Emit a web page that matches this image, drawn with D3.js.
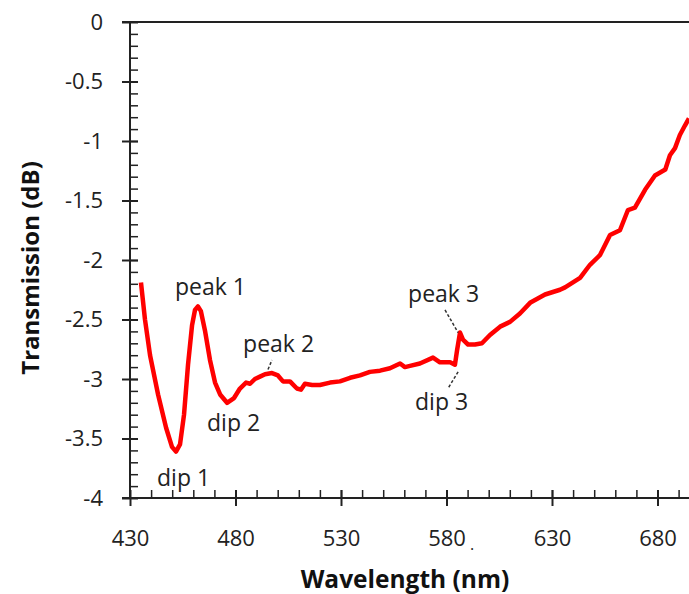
<!DOCTYPE html>
<html>
<head>
<meta charset="utf-8">
<script src="https://cdn.jsdelivr.net/npm/d3@7"></script>
<style>
  body { margin: 0; background: #fff; }
  svg { display: block; }
</style>
</head>
<body>
<script>
// donnees
var wavelength = [435.2, 437.1, 439.5, 443.3, 447.1, 449.9, 451.8, 453.7, 455.6, 457.5,
  459.4, 460.8, 462.2, 463.6, 465.5, 467.9, 470.3, 472.7, 476.0, 479.3,
  482.1, 485.0, 486.9, 489.2, 491.6, 494.0, 497.3, 500.1, 502.5, 505.8,
  509.1, 511.0, 512.9, 516.3, 520.0, 524.8, 529.5, 534.3, 539.0, 543.7,
  548.5, 553.2, 558.0, 560.3, 562.7, 567.4, 573.6, 576.9, 581.7, 584.0,
  585.0, 586.4, 587.8, 590.2, 593.5, 596.8, 600.6, 605.4, 610.1, 614.8,
  619.6, 626.7, 633.8, 636.2, 643.3, 648.0, 652.7, 657.5, 662.2, 666.0,
  669.3, 674.1, 678.8, 683.7, 685.9, 688.3, 690.6, 693.0, 694.9];
var transmission = [-2.19, -2.50, -2.80, -3.13, -3.41, -3.57, -3.61, -3.55, -3.30, -2.88,
  -2.55, -2.42, -2.39, -2.43, -2.59, -2.84, -3.03, -3.13, -3.20, -3.16,
  -3.08, -3.03, -3.04, -3.00, -2.98, -2.96, -2.95, -2.97, -3.02, -3.02,
  -3.08, -3.09, -3.04, -3.05, -3.05, -3.03, -3.02, -2.99, -2.97, -2.94,
  -2.93, -2.91, -2.87, -2.90, -2.89, -2.87, -2.82, -2.86, -2.86, -2.88,
  -2.76, -2.61, -2.67, -2.71, -2.71, -2.70, -2.63, -2.56, -2.52, -2.45,
  -2.36, -2.29, -2.25, -2.23, -2.15, -2.04, -1.96, -1.79, -1.75, -1.58,
  -1.56, -1.41, -1.29, -1.24, -1.12, -1.06, -0.95, -0.87, -0.81];

var xTicks = [430, 480, 530, 580, 630, 680];
var yTicks = [0, -0.5, -1, -1.5, -2, -2.5, -3, -3.5, -4];

var labelText = ["peak 1", "dip 1", "dip 2", "peak 2", "peak 3", "dip 3"];
var labelX = [451.3, 442.8, 466.5, 483.6, 561.8, 565.1];
var labelY = [-2.29, -3.90, -3.44, -2.77, -2.35, -3.26];

// traits de rappel [x1, y1, x2, y2]
var leaders = [
  [495.4, -2.92, 497.3, -2.84],
  [579.3, -2.42, 585.5, -2.61],
  [585.5, -2.94, 580.7, -3.08]
];

var larg = 689, haut = 594;
var fontT = "'Open Sans', sans-serif";

var x = d3.scaleLinear().domain([430, 700]).range([130, 699.7]);
var y = d3.scaleLinear().domain([-4, 0]).range([498, 22]);

var svg = d3.select("body").append("svg")
  .attr("width", larg)
  .attr("height", haut);

// ligne du haut
svg.append("line")
  .attr("x1", 122).attr("x2", larg)
  .attr("y1", y(0)).attr("y2", y(0))
  .attr("stroke", "#222").attr("stroke-width", 2);

// axe X (graduations mineures)
svg.append("g")
  .attr("transform", "translate(0," + y(-4) + ")")
  .call(d3.axisBottom(x).tickValues(d3.range(440, 701, 10)).tickSize(0).tickFormat(""))
  .call(function(g) {
    g.select(".domain").remove();
    g.selectAll(".tick line").attr("y1", -8).attr("y2", 0)
      .attr("stroke", "#222").attr("stroke-width", 1.5);
  });

// axe X (majeures)
var gx = svg.append("g")
  .attr("transform", "translate(0," + y(-4) + ")")
  .call(d3.axisBottom(x).tickValues(xTicks).tickSize(0).tickPadding(0).tickFormat(d3.format("d")));
gx.select(".domain").attr("d", "M122,0H" + larg).attr("stroke", "#222").attr("stroke-width", 2);
gx.selectAll(".tick line").attr("y1", -8).attr("y2", 8).attr("stroke", "#222").attr("stroke-width", 2);
gx.selectAll(".tick text")
  .attr("y", 48).attr("dy", null)
  .attr("font-family", fontT).attr("font-size", "22px").attr("fill", "#222");

// axe Y (mineures)
svg.append("g")
  .attr("transform", "translate(" + x(430) + ",0)")
  .call(d3.axisLeft(y).tickValues(d3.range(-39, 0).map(function(d) { return d / 10; })).tickSize(0).tickFormat(""))
  .call(function(g) {
    g.select(".domain").remove();
    g.selectAll(".tick line").attr("x1", 0).attr("x2", 8)
      .attr("stroke", "#222").attr("stroke-width", 1.5);
  });

// axe Y (majeures)
var gy = svg.append("g")
  .attr("transform", "translate(" + x(430) + ",0)")
  .call(d3.axisLeft(y).tickValues(yTicks).tickSize(0).tickPadding(0).tickFormat(function(d) { return d3.format("")(d).replace("\u2212", "-"); }));
gy.select(".domain").attr("d", "M0," + y(0) + "V" + y(-4)).attr("stroke", "#222").attr("stroke-width", 2);
gy.selectAll(".tick line").attr("x1", -8).attr("x2", 8).attr("stroke", "#222").attr("stroke-width", 2);
gy.selectAll(".tick text")
  .attr("x", -27)
  .attr("font-family", fontT).attr("font-size", "22px").attr("fill", "#222");

// courbe
var pts = wavelength.map(function(w, i) { return [w, transmission[i]]; });
var line = d3.line()
  .x(function(d) { return x(d[0]); })
  .y(function(d) { return y(d[1]); });

svg.append("path")
  .datum(pts)
  .attr("d", line)
  .attr("fill", "none")
  .attr("stroke", "#ff0000")
  .attr("stroke-width", 4.5)
  .attr("stroke-linejoin", "round");

// traits de rappel
svg.selectAll("line.leader")
  .data(leaders)
  .enter()
  .append("line")
  .attr("class", "leader")
  .attr("x1", function(d) { return x(d[0]); })
  .attr("y1", function(d) { return y(d[1]); })
  .attr("x2", function(d) { return x(d[2]); })
  .attr("y2", function(d) { return y(d[3]); })
  .attr("stroke", "#333")
  .attr("stroke-width", 1.5)
  .attr("stroke-dasharray", "3,2");

// libelles
svg.selectAll("text.lbl")
  .data(labelText)
  .enter()
  .append("text")
  .attr("class", "lbl")
  .text(function(d) { return d; })
  .attr("x", function(d, i) { return x(labelX[i]); })
  .attr("y", function(d, i) { return y(labelY[i]); })
  .attr("font-family", fontT)
  .attr("font-size", "23px")
  .attr("fill", "#222");

// titres des axes
svg.append("text")
  .text("Wavelength (nm)")
  .attr("x", 405).attr("y", 588)
  .attr("text-anchor", "middle")
  .attr("font-family", fontT).attr("font-weight", "bold").attr("font-size", "24.5px")
  .attr("fill", "#111");

svg.append("text")
  .text("Transmission (dB)")
  .attr("transform", "translate(39,268) rotate(-90)")
  .attr("text-anchor", "middle")
  .attr("font-family", fontT).attr("font-weight", "bold").attr("font-size", "24px")
  .attr("fill", "#111");

// petit point sous 580
svg.append("text").text(".")
  .attr("x", 470).attr("y", 550)
  .attr("font-family", fontT).attr("font-size", "16px").attr("fill", "#222");
</script>
</body>
</html>
